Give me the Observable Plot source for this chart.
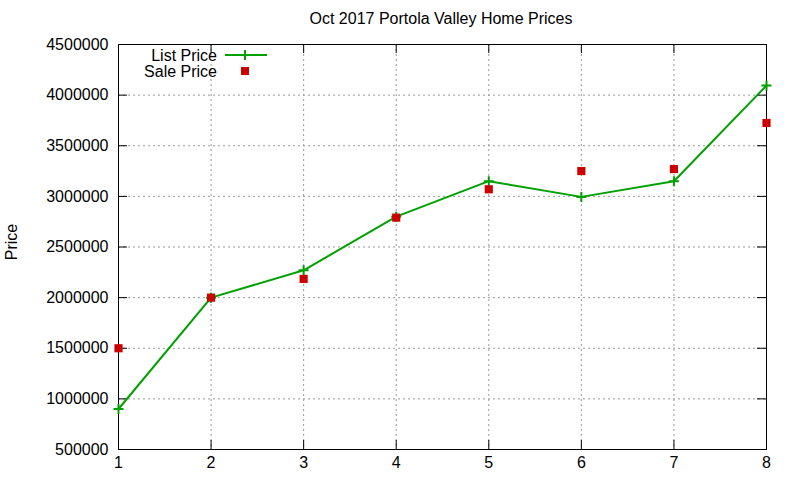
<!DOCTYPE html>
<html><head><meta charset="utf-8">
<script src="https://cdn.jsdelivr.net/npm/d3@7"></script>
<script src="https://cdn.jsdelivr.net/npm/@observablehq/plot@0.6"></script>
<style>
body{margin:0;background:#fff;font-family:"Liberation Sans",Arial,sans-serif;}
#wrap{position:relative;width:800px;height:480px;}
#title{position:absolute;left:0;top:10px;width:882px;text-align:center;font-size:16px;color:#000;}
#chart{position:absolute;left:0;top:30px;}
#legend{position:absolute;left:118px;top:44px;font-size:16px;}
</style></head>
<body><div id="wrap"><div id="title">Oct 2017 Portola Valley Home Prices</div><div id="chart"></div>
<svg id="legend" width="160" height="40" style="overflow:visible">
<text x="99" y="17" text-anchor="end" font-size="16">List Price</text>
<line x1="107" x2="149" y1="11" y2="11" stroke="#00a000" stroke-width="2"/>
<line x1="127" x2="127" y1="6" y2="16" stroke="#00a000" stroke-width="2"/>
<text x="99" y="33" text-anchor="end" font-size="16">Sale Price</text>
<rect x="123" y="23" width="8" height="8" fill="#cc0000"/>
</svg>
</div>
<script>
const months = [1,2,3,4,5,6,7,8];
const listPrice = [900000,2000000,2270000,2800000,3150000,2995000,3150000,4095000];
const salePrice = [1500000,2000000,2185000,2790000,3070000,3250000,3270000,3725000];
const yTicks = [500000,1000000,1500000,2000000,2500000,3000000,3500000,4000000,4500000];
const xTicks = [1,2,3,4,5,6,7,8];

const list = months.map((m,i)=>({m, v:listPrice[i]}));
const sale = months.map((m,i)=>({m, v:salePrice[i]}));

const plusSym = {draw(ctx, size){const r=5; ctx.moveTo(-r,0);ctx.lineTo(r,0);ctx.moveTo(0,-r);ctx.lineTo(0,r);}};

const W=800,H=450;
const chart = Plot.plot({
  width:W, height:H,
  marginLeft:118, marginRight:34, marginTop:14, marginBottom:31,
  style:{fontFamily:'"Liberation Sans",Arial,sans-serif', fontSize:"16px", color:"#000", background:"#fff"},
  x:{domain:[1,8], ticks:xTicks},
  y:{domain:[500000,4500000], ticks:yTicks},
  marks:[
    Plot.gridX(xTicks.slice(1,-1), {stroke:"#999", strokeOpacity:1, strokeDasharray:"2,3"}),
    Plot.gridY(yTicks.slice(1,-1), {stroke:"#999", strokeOpacity:1, strokeDasharray:"2,3"}),
    Plot.tickY(yTicks, {y:d=>d, insetRight:639, stroke:"#000"}),
    Plot.tickY(yTicks, {y:d=>d, insetLeft:639, stroke:"#000"}),
    Plot.tickX(xTicks, {x:d=>d, insetTop:396, stroke:"#000"}),
    Plot.tickX(xTicks, {x:d=>d, insetBottom:396, stroke:"#000"}),
    Plot.frame({stroke:"#000", strokeWidth:1}),
    Plot.axisY(yTicks, {tickSize:0, tickPadding:10, tickFormat:d3.format("d"), label:null, fontSize:16}),
    Plot.text(["Price"], {text:d=>d, frameAnchor:"left", textAnchor:"middle", rotate:-90, dx:-107, dy:-5, fontSize:16, fill:"#000"}),
    Plot.axisX(xTicks, {tickSize:0, tickPadding:7, tickFormat:d3.format("d"), label:null, fontSize:16}),
    Plot.line(list, {x:"m", y:"v", stroke:"#00a000", strokeWidth:2}),
    Plot.dot(list, {x:"m", y:"v", symbol:plusSym, stroke:"#00a000", strokeWidth:2, fill:"none"}),
    Plot.dot(sale, {x:"m", y:"v", symbol:"square", r:4.6, fill:"#cc0000", stroke:"none"})
  ]
});
document.getElementById("chart").appendChild(chart);
</script></body></html>
